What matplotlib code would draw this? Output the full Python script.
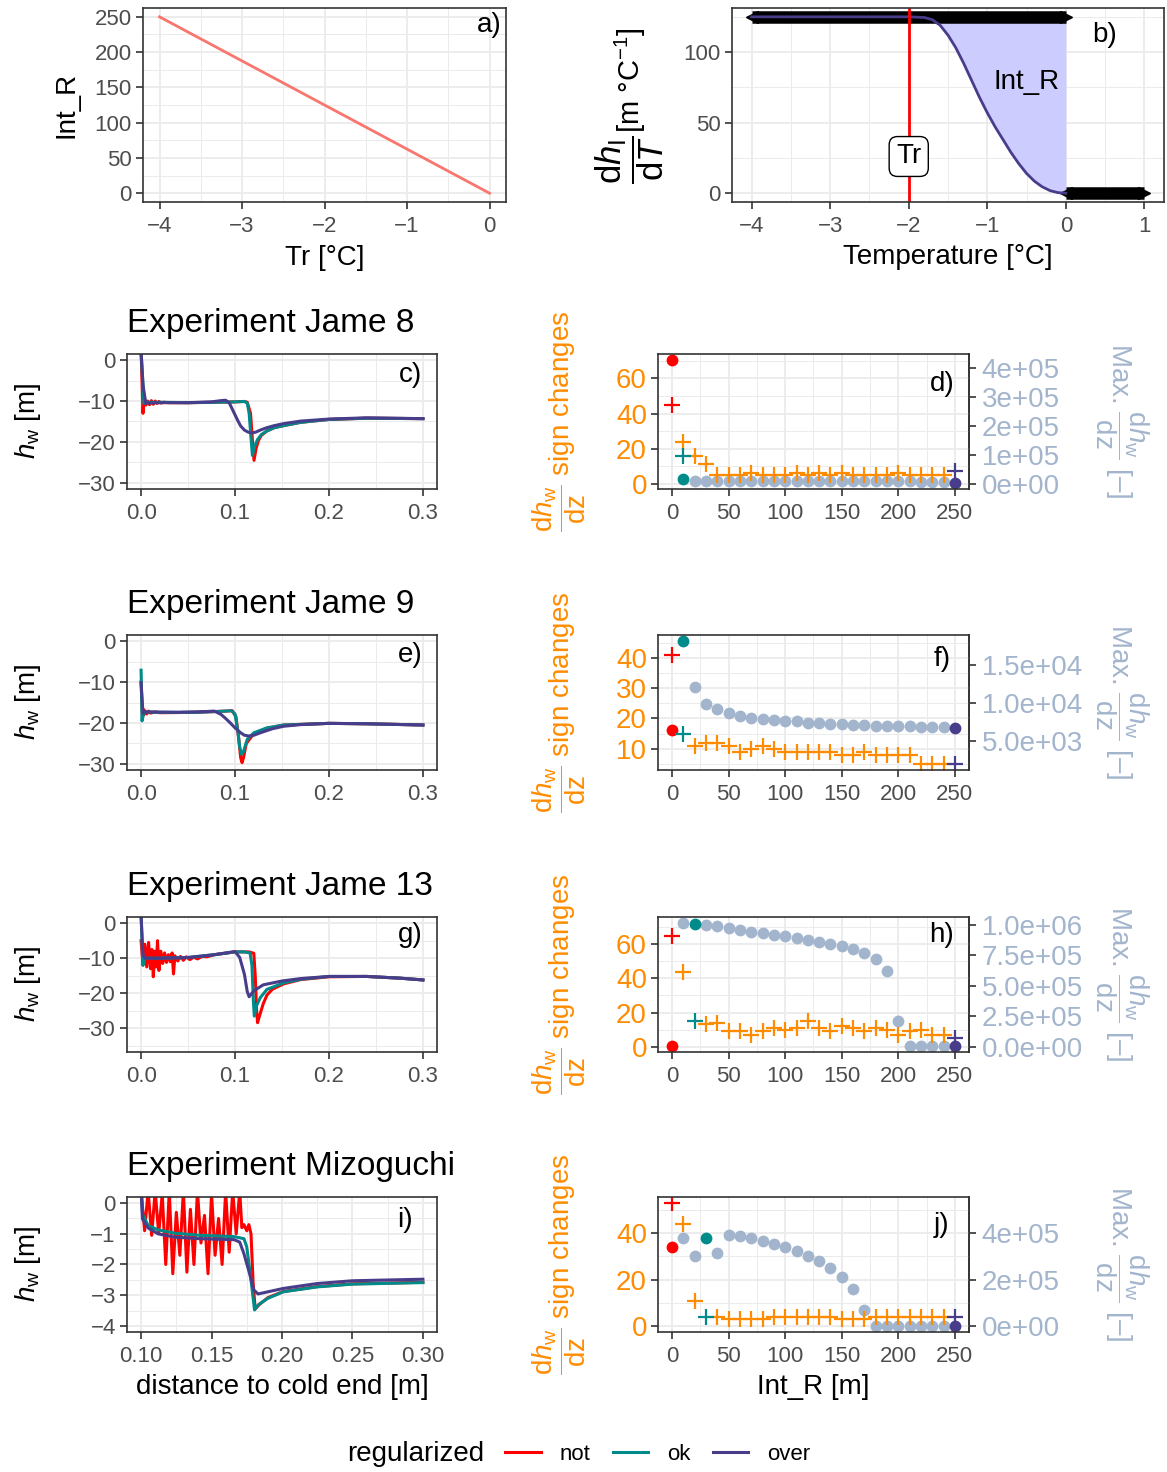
import numpy as np
import matplotlib.pyplot as plt
from matplotlib.lines import Line2D
from matplotlib.ticker import AutoMinorLocator, MultipleLocator, FormatStrFormatter, FixedLocator

plt.rcParams['font.family'] = ['Liberation Sans', 'DejaVu Sans']
plt.rcParams['mathtext.fontset'] = 'custom'
plt.rcParams['mathtext.rm'] = 'Liberation Sans'
plt.rcParams['mathtext.it'] = 'Liberation Sans:italic'
plt.rcParams['mathtext.bf'] = 'Liberation Sans:bold'

C_NOT = '#FF0000'
C_OK = '#008B8B'
C_OVER = '#483D8B'
C_SWEEP = '#FF8C00'
C_MAX = '#A2B5CD'
C_TR = '#F8766D'

# --- a) Int_R as a function of Tr
tr_vals = [-4, -3, -2, -1, 0]
int_r_vals = [250, 187.5, 125, 62.5, 0]

# --- b) dh_I/dT curve
temp_b = [-4.0, -2.0, -1.8, -1.7, -1.6, -1.5, -1.4, -1.3, -1.2, -1.1, -1.0,
          -0.9, -0.8, -0.7, -0.6, -0.5, -0.4, -0.3, -0.2, -0.1, 0.0]
dhdt_b = [125, 125, 124.5, 123, 119, 112, 103, 92, 80, 68, 57,
          47, 38, 29, 21, 14, 8.5, 4.5, 1.8, 0.4, 0.0]
tr_mark = -2
bar_start = [-4, 0]
bar_end = [0, 1]
bar_level = [125, 0]

# --- h_w profiles (x = distance to cold end, y = h_w)
c_not_x = [0.0, 0.001, 0.002, 0.003, 0.005, 0.007, 0.009, 0.011, 0.013, 0.015, 0.017, 0.019,
           0.021, 0.024, 0.03, 0.05, 0.08, 0.10, 0.110, 0.113, 0.1165, 0.1185, 0.1202, 0.1225,
           0.125, 0.128, 0.134, 0.142, 0.152, 0.17, 0.2, 0.24, 0.3]
c_not_y = [2.0, -5.0, -13.0, -9.6, -11.0, -10.0, -10.9, -9.9, -10.8, -10.0, -10.6, -10.1,
           -10.5, -10.3, -10.4, -10.4, -10.3, -10.2, -10.1, -10.3, -13.0, -19.5, -24.5, -21.5,
           -19.6, -18.4, -17.3, -16.5, -16.0, -15.2, -14.5, -14.2, -14.3]
c_ok_x = [0.0, 0.002, 0.003, 0.006, 0.02, 0.05, 0.08, 0.10, 0.110, 0.113, 0.115, 0.117,
          0.1185, 0.121, 0.124, 0.128, 0.134, 0.142, 0.152, 0.17, 0.2, 0.24, 0.3]
c_ok_y = [2.0, -6.0, -10.6, -10.3, -10.3, -10.4, -10.3, -10.2, -10.1, -10.5, -13.0, -19.0,
          -23.3, -21.0, -19.4, -18.2, -17.3, -16.5, -16.0, -15.2, -14.5, -14.2, -14.3]
c_over_x = [0.0, 0.002, 0.005, 0.02, 0.05, 0.075, 0.085, 0.09, 0.094, 0.099, 0.103, 0.106,
            0.110, 0.114, 0.118, 0.122, 0.128, 0.134, 0.142, 0.152, 0.17, 0.2, 0.24, 0.3]
c_over_y = [2.0, -6.0, -10.5, -10.4, -10.4, -10.2, -9.9, -9.8, -10.5, -12.9, -14.8, -16.1,
            -17.1, -17.6, -17.8, -17.6, -17.0, -16.5, -16.0, -15.5, -14.9, -14.4, -14.1, -14.3]

e_not_x = [0.0, 0.001, 0.0015, 0.002, 0.003, 0.004, 0.006, 0.008, 0.01, 0.015, 0.02, 0.06,
           0.09, 0.097, 0.101, 0.104, 0.106, 0.1075, 0.109, 0.112, 0.12, 0.134, 0.152, 0.2,
           0.24, 0.3]
e_not_y = [-10.0, -16.0, -19.0, -16.5, -18.0, -17.0, -17.8, -17.1, -17.6, -17.3, -17.5, -17.4,
           -17.1, -17.0, -18.5, -24.0, -28.5, -29.7, -28.5, -25.0, -22.6, -21.3, -20.5, -20.1,
           -20.2, -20.5]
e_ok_x = [0.0, 0.001, 0.003, 0.02, 0.06, 0.09, 0.096, 0.1, 0.103, 0.105, 0.107, 0.109,
          0.113, 0.12, 0.134, 0.152, 0.2, 0.24, 0.3]
e_ok_y = [-7.1, -19.5, -17.3, -17.4, -17.4, -17.1, -17.0, -17.8, -22.0, -26.0, -27.7, -27.0,
          -24.0, -22.4, -21.2, -20.5, -20.1, -20.2, -20.5]
e_over_x = [0.0, 0.002, 0.004, 0.04, 0.07, 0.078, 0.085, 0.09, 0.095, 0.1, 0.106, 0.11,
            0.115, 0.12, 0.127, 0.14, 0.152, 0.17, 0.2, 0.24, 0.3]
e_over_y = [-10.2, -17.6, -17.3, -17.4, -17.2, -17.1, -17.9, -18.9, -20.0, -21.2, -22.4, -23.0,
            -23.2, -23.0, -22.4, -21.4, -20.8, -20.4, -20.1, -20.2, -20.5]

g_not_x = [0.0, 0.002, 0.004, 0.006, 0.008, 0.010, 0.0115, 0.013, 0.0145, 0.016, 0.0175,
           0.019, 0.021, 0.023, 0.025, 0.027, 0.029, 0.031, 0.033, 0.0345, 0.036, 0.039,
           0.042, 0.045, 0.048, 0.052, 0.056, 0.06, 0.065, 0.07, 0.078, 0.1, 0.115, 0.12,
           0.1215, 0.123, 0.124, 0.126, 0.13, 0.134, 0.14, 0.152, 0.17, 0.2, 0.24, 0.276, 0.3]
g_not_y = [-5.0, -12.0, -6.0, -12.5, -5.5, -13.0, -7.5, -15.3, -8.0, -12.5, -5.0,
           -13.5, -8.0, -11.5, -8.5, -11.2, -9.0, -11.0, -8.5, -14.5, -9.3, -10.8,
           -9.5, -10.6, -9.6, -10.4, -9.7, -10.2, -9.5, -9.6, -9.0, -8.2, -8.2, -8.6,
           -15.0, -25.0, -28.4, -26.5, -23.0, -20.5, -18.8, -17.3, -16.1, -15.3, -15.2, -15.7, -16.2]
g_ok_x = [0.0, 0.002, 0.004, 0.02, 0.05, 0.078, 0.1, 0.11, 0.116, 0.118, 0.1195, 0.1205,
          0.123, 0.127, 0.134, 0.152, 0.17, 0.2, 0.24, 0.276, 0.3]
g_ok_y = [2.0, -12.0, -10.0, -10.0, -9.8, -9.0, -8.2, -8.2, -8.5, -12.0, -22.0, -26.5,
          -23.5, -21.2, -18.9, -17.0, -16.0, -15.2, -15.2, -15.7, -16.2]
g_over_x = [0.0, 0.002, 0.004, 0.02, 0.05, 0.078, 0.1, 0.105, 0.11, 0.113, 0.115, 0.12,
            0.13, 0.15, 0.17, 0.2, 0.24, 0.276, 0.3]
g_over_y = [2.0, -9.0, -10.0, -10.0, -9.8, -9.0, -8.1, -9.8, -14.6, -19.5, -21.0, -19.3,
            -17.6, -16.5, -15.8, -15.2, -15.2, -15.7, -16.2]

i_not_x = [0.100, 0.1025, 0.105, 0.1075, 0.110, 0.1125, 0.115, 0.1175, 0.120, 0.1225,
           0.125, 0.1275, 0.130, 0.1325, 0.135, 0.1375, 0.140, 0.1425, 0.145, 0.1475,
           0.150, 0.1525, 0.155, 0.1575, 0.160, 0.1625, 0.165, 0.1675, 0.170, 0.1715,
           0.173, 0.175, 0.1765, 0.178, 0.1795, 0.181, 0.184, 0.19, 0.201, 0.225, 0.25, 0.3]
i_not_y = [0.4, -0.9, 0.4, -1.05, 0.4, -1.0, 0.3, -2.0, 0.4, -2.3,
           -0.3, -1.7, 0.4, -2.25, -0.2, -2.0, 0.4, -1.3, -0.4, -2.3,
           0.3, -1.7, -0.5, -2.0, 0.4, -1.6, 0.4, -1.0, 0.4, -0.8,
           -0.7, -0.9, -0.7, -1.0, -2.6, -3.45, -3.3, -3.08, -2.88, -2.72, -2.63, -2.58]
i_ok_x = [0.1, 0.101, 0.105, 0.112, 0.124, 0.142, 0.166, 0.173, 0.175, 0.178, 0.1805,
          0.183, 0.19, 0.201, 0.225, 0.25, 0.3]
i_ok_y = [0.5, -0.36, -0.73, -0.87, -0.98, -1.05, -1.09, -1.16, -1.43, -2.5, -3.48,
          -3.32, -3.1, -2.89, -2.73, -2.64, -2.59]
i_over_x = [0.1, 0.101, 0.105, 0.112, 0.124, 0.142, 0.166, 0.17, 0.173, 0.177, 0.18,
            0.183, 0.19, 0.201, 0.225, 0.25, 0.3]
i_over_y = [0.5, -0.52, -0.81, -1.0, -1.11, -1.16, -1.19, -1.27, -1.65, -2.3, -2.83,
            -2.96, -2.89, -2.78, -2.62, -2.53, -2.48]

# --- Int_R sweeps: sign changes of dh_w/dz and max dh_w/dz
d_sc_x = [10, 20, 30, 40, 50, 60, 70, 80, 90, 100, 110, 120, 130, 140, 150, 160, 170, 180,
          190, 200, 210, 220, 230, 240]
d_sc = [24, 16, 11, 5, 5, 5, 6, 5, 5, 5, 6, 5, 6, 5, 6, 5, 5, 5, 5, 6, 5, 5, 5, 5]
d_max_x = [20, 30, 40, 50, 60, 70, 80, 90, 100, 110, 120, 130, 140, 150, 160, 170, 180, 190,
           200, 210, 220, 230, 240]
d_max = [11000, 10500, 10000, 9800, 9600, 9400, 9200, 9000, 8800, 8700, 8600, 8500, 8400,
         8300, 8200, 8100, 8000, 7900, 7800, 7700, 7600, 7500, 7400]

f_sc_x = [20, 30, 40, 50, 60, 70, 80, 90, 100, 110, 120, 130, 140, 150, 160, 170, 180, 190,
          200, 210, 220, 230, 240]
f_sc = [11, 12, 12, 11, 9, 10, 11, 10, 9, 9, 9, 9, 9, 8, 8, 9, 8, 8, 8, 8, 5, 5, 5]
f_max_x = f_sc_x
f_max = [12150, 9920, 9190, 8660, 8320, 8080, 7960, 7840, 7680, 7600, 7440, 7340, 7240,
         7200, 7150, 7100, 7050, 7000, 6980, 6950, 6920, 6900, 6880]

h_sc_x = [10, 30, 40, 50, 60, 70, 80, 90, 100, 110, 120, 130, 140, 150, 160, 170, 180, 190,
          200, 210, 220, 230, 240]
h_sc = [44, 13, 14, 9, 9, 7, 9, 11, 10, 11, 15, 11, 9, 12, 11, 9, 11, 10, 7, 9, 10, 7, 7]
h_max_x = h_sc_x
h_max = [1.014e6, 0.998e6, 0.987e6, 0.973e6, 0.959e6, 0.945e6, 0.931e6, 0.920e6, 0.910e6,
         0.896e6, 0.876e6, 0.862e6, 0.846e6, 0.825e6, 0.799e6, 0.766e6, 0.717e6, 0.620e6,
         0.207e6, 8e3, 8e3, 8e3, 8e3]

j_sc_x = [10, 20, 40, 50, 60, 70, 80, 90, 100, 110, 120, 130, 140, 150, 160, 170, 180, 190,
          200, 210, 220, 230, 240]
j_sc = [44, 11, 4, 3, 3, 3, 3, 4, 4, 4, 4, 4, 4, 3, 3, 3, 4, 4, 4, 4, 4, 4, 4]
j_max_x = j_sc_x
j_max = [381e3, 302e3, 314e3, 393e3, 390e3, 378e3, 367e3, 354e3, 340e3, 325e3, 302e3,
         282e3, 252e3, 213e3, 158e3, 69e3, 1e3, 1e3, 1e3, 1e3, 1e3, 1e3, 1e3]

# regularized runs: (Int_R, sign changes, max dh_w/dz) for not / ok / over
d_runs = [(0, 45, 4.26e5), (10, 16, 1.5e4), (250, 7, 3e3)]
f_runs = [(0, 41, 6480), (10, 15, 18200), (250, 5, 6760)]
h_runs = [(0, 65, 6e3), (20, 15, 1.006e6), (250, 5, 8e3)]
j_runs = [(0, 53, 3.42e5), (30, 4, 3.78e5), (250, 4, 1e3)]

# scale between primary (sign changes) and secondary (max) axes
d_k, f_k, h_k, j_k = 6050, 400, 14000, 10000
d_sec_ticks = [0, 1e5, 2e5, 3e5, 4e5]
f_sec_ticks = [5e3, 1e4, 1.5e4]
h_sec_ticks = [0, 2.5e5, 5e5, 7.5e5, 1e6]
j_sec_ticks = [0, 2e5, 4e5]

W, H = 1167, 1472
fig = plt.figure(figsize=(W / 100, H / 100), dpi=100)


def box(x0, y0, x1, y1):
    return fig.add_axes([x0 / W, 1 - y1 / H, (x1 - x0) / W, (y1 - y0) / H])


def ftext(x, y, s, **kw):
    kw.setdefault('ha', 'center')
    kw.setdefault('va', 'center')
    return fig.text(x / W, 1 - y / H, s, **kw)


def style(ax):
    ax.set_facecolor('white')
    for s in ax.spines.values():
        s.set_color('#333333')
        s.set_linewidth(1.2)
    ax.tick_params(which='major', length=5, width=1.2, color='#333333',
                   labelcolor='#4D4D4D', labelsize=16, pad=3)
    ax.tick_params(axis='x', which='major', pad=5)
    ax.tick_params(which='minor', length=0)
    ax.xaxis.set_minor_locator(AutoMinorLocator(2))
    ax.yaxis.set_minor_locator(AutoMinorLocator(2))
    ax.grid(which='major', color='#EBEBEB', lw=1.3)
    ax.grid(which='minor', color='#EBEBEB', lw=0.7)
    ax.set_axisbelow(True)


# a)
ax = box(143, 8, 506, 202)
ax.plot(tr_vals, int_r_vals, color=C_TR, lw=2)
ax.margins(0.05)
ax.xaxis.set_major_locator(MultipleLocator(1))
ax.yaxis.set_major_locator(MultipleLocator(50))
style(ax)
ax.text(0.953, 0.91, 'a)', transform=ax.transAxes, fontsize=20, ha='center', va='center')
ftext(325, 258, 'Tr [°C]', fontsize=20)
ftext(67, 105, 'Int_R', fontsize=20, rotation=90)

# b)
ax = box(732, 8, 1164, 202)
temp_arr = np.array(temp_b)
dhdt_arr = np.array(dhdt_b)
ax.fill_between(temp_arr, dhdt_arr, 125, where=temp_arr >= tr_mark, color='#CCCCFF', lw=0)
for xs, xe, yl in zip(bar_start, bar_end, bar_level):
    ax.plot([xs, xe], [yl, yl], color='black', lw=9, solid_capstyle='butt')
    ax.plot([xs], [yl], marker='<', ms=8, color='black')
    ax.plot([xe], [yl], marker='>', ms=8, color='black')
ax.plot(temp_b, dhdt_b, color=C_OVER, lw=2)
ax.axvline(tr_mark, color='red', lw=2)
ax.text(tr_mark, 26, 'Tr', fontsize=20, ha='center', va='center',
        bbox=dict(boxstyle='round,pad=0.25,rounding_size=0.3', fc='white', ec='black', lw=1))
ax.text(-0.5, 79, 'Int_R', fontsize=20, ha='center', va='center')
ax.set_xlim(-4.25, 1.25)
ax.set_ylim(-6.25, 131.25)
ax.xaxis.set_major_locator(MultipleLocator(1))
ax.yaxis.set_major_locator(MultipleLocator(50))
style(ax)
ax.text(0.863, 0.86, 'b)', transform=ax.transAxes, fontsize=20, ha='center', va='center')
ftext(948, 257, 'Temperature [°C]', fontsize=20)
ftext(630, 160, r'$\dfrac{\mathrm{d}h_\mathrm{I}}{\mathrm{d}T}$', fontsize=25, rotation=90)
ftext(630, 80, r'[m °C$^{-1}$]', fontsize=21, rotation=90)

# left column: h_w profiles
rows = [354, 635, 917, 1197]
left_panels = [
    ('c)', 'Experiment Jame 8', (c_not_x, c_not_y), (c_ok_x, c_ok_y), (c_over_x, c_over_y),
     (-31.5, 1.5), 10, (-0.015, 0.315), 0.1, '%.1f', 0.844),
    ('e)', 'Experiment Jame 9', (e_not_x, e_not_y), (e_ok_x, e_ok_y), (e_over_x, e_over_y),
     (-31.5, 1.5), 10, (-0.015, 0.315), 0.1, '%.1f', 0.85),
    ('g)', 'Experiment Jame 13', (g_not_x, g_not_y), (g_ok_x, g_ok_y), (g_over_x, g_over_y),
     (-36.75, 1.75), 10, (-0.015, 0.315), 0.1, '%.1f', 0.866),
    ('i)', 'Experiment Mizoguchi', (i_not_x, i_not_y), (i_ok_x, i_ok_y), (i_over_x, i_over_y),
     (-4.2, 0.2), 1, (0.09, 0.31), 0.05, '%.2f', 0.83),
]
for top, (lab, title, nt, ok, ov, ylim, ystep, xlim, xstep, xfmt, ly) in zip(rows, left_panels):
    ax = box(127, top, 437, top + 135)
    for (xs, ys), col in zip((nt, ok, ov), (C_NOT, C_OK, C_OVER)):
        ax.plot(xs, ys, color=col, lw=2.2)
    ax.set_xlim(*xlim)
    ax.set_ylim(*ylim)
    ax.xaxis.set_major_locator(MultipleLocator(xstep))
    ax.xaxis.set_major_formatter(FormatStrFormatter(xfmt))
    ax.yaxis.set_major_locator(MultipleLocator(ystep))
    style(ax)
    ax.text(0.915 if lab != 'i)' else 0.897, ly, lab, transform=ax.transAxes,
            fontsize=20, ha='center', va='center')
    ftext(127, top - 22, title, fontsize=24, ha='left', va='baseline')
    ftext(28, top + 67, r'$h_\mathrm{w}$ [m]', fontsize=20, rotation=90)
ftext(282, 1387, 'distance to cold end [m]', fontsize=20)

# right column: Int_R sweeps
right_panels = [
    ('d)', d_sc_x, d_sc, d_max_x, d_max, d_runs, d_k, d_sec_ticks, '.0e', 20, 0.776),
    ('f)', f_sc_x, f_sc, f_max_x, f_max, f_runs, f_k, f_sec_ticks, '.1e', 10, 0.82),
    ('h)', h_sc_x, h_sc, h_max_x, h_max, h_runs, h_k, h_sec_ticks, '.1e', 20, 0.866),
    ('j)', j_sc_x, j_sc, j_max_x, j_max, j_runs, j_k, j_sec_ticks, '.0e', 20, 0.793),
]
for top, (lab, scx, sc, mx, mv, runs, k, sec_ticks, sfmt, ystep, ly) in zip(rows, right_panels):
    ax = box(658, top, 969, top + 135)
    ax.plot(mx, np.array(mv) / k, 'o', color=C_MAX, ms=8.5, mew=0)
    ax.plot(scx, sc, '+', color=C_SWEEP, ms=11, mew=1.6)
    for (rx, rsc, rmax), col in zip(runs, (C_NOT, C_OK, C_OVER)):
        ax.plot([rx], [rmax / k], 'o', color=col, ms=8.5, mew=0)
        ax.plot([rx], [rsc], '+', color=col, ms=11, mew=1.6)
    ax.margins(0.05)
    ax.xaxis.set_major_locator(MultipleLocator(50))
    ax.yaxis.set_major_locator(MultipleLocator(ystep))
    style(ax)
    ax.tick_params(axis='y', which='major', labelcolor=C_SWEEP, labelsize=20)
    sec = ax.secondary_yaxis('right', functions=(lambda y, k=k: y * k, lambda v, k=k: v / k))
    sec.yaxis.set_major_locator(FixedLocator(sec_ticks))
    sec.set_yticklabels([format(v, sfmt) for v in sec_ticks])
    sec.tick_params(length=5, width=1.2, color='#333333', labelcolor=C_MAX, labelsize=20, pad=4)
    sec.spines['right'].set_color('#333333')
    sec.spines['right'].set_linewidth(1.2)
    ax.text(0.913, ly, lab, transform=ax.transAxes, fontsize=20, ha='center', va='center')
    ftext(559, top + 67, r'$\dfrac{\mathrm{d}h_\mathrm{w}}{\mathrm{dz}}$ sign changes',
          fontsize=20, rotation=90, color=C_SWEEP)
    ftext(1122, top + 67, r'Max. $\dfrac{\mathrm{d}h_\mathrm{w}}{\mathrm{dz}}$ [–]',
          fontsize=20, rotation=270, color=C_MAX)
ftext(813, 1387, 'Int_R [m]', fontsize=20)

# legend
handles = [Line2D([], [], color=c, lw=2.2) for c in (C_NOT, C_OK, C_OVER)]
fig.legend(handles, ['not', 'ok', 'over'], loc='center left',
           bbox_to_anchor=(505 / W, 1 - 1454 / H), ncol=3, frameon=False, fontsize=16,
           handlelength=1.6, handletextpad=0.85, columnspacing=1.0,
           borderaxespad=0, borderpad=0)
ftext(416, 1454, 'regularized', fontsize=20)

fig.savefig('out.png', dpi=100)
